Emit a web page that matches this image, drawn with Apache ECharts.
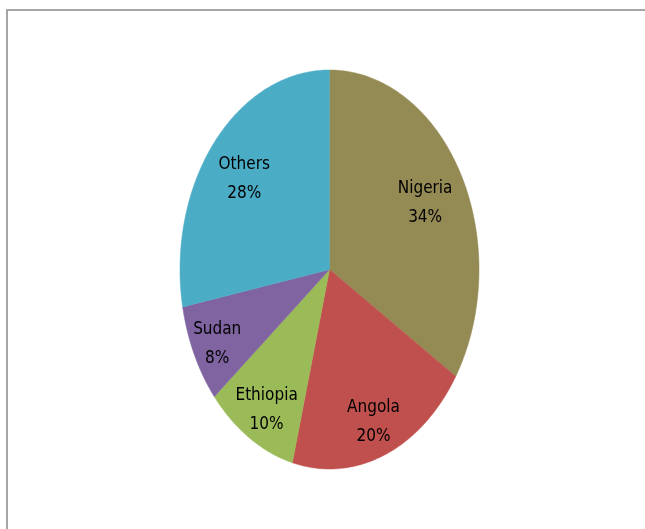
<!DOCTYPE html>
<html>
<head>
<meta charset="utf-8">
<script src="https://cdn.jsdelivr.net/npm/echarts@6/dist/echarts.min.js"></script>
<style>
  html, body { margin: 0; padding: 0; background: #fff; }
  #chart { width: 645px; height: 529px; }
</style>
</head>
<body>
<div id="chart"></div>
<script>
// Share of total by country (percent)
var categories = ['Nigeria', 'Angola', 'Ethiopia', 'Sudan', 'Others'];
var values = [34, 20, 10, 8, 28];

// Slice colours and label distance (fraction of radius) per slice
var colors = ['#948A54', '#C0504D', '#9BBB59', '#8064A2', '#4BACC6'];
var labelRadius = [0.73, 0.8, 0.81, 0.83, 0.74];
var LABEL_DY = 4;

// Ellipse geometry of the pie
var CX = 329.5, CY = 269.5, RX = 149.5, RY = 199.5;

var total = values.reduce(function (a, b) { return a + b; }, 0);
var starts = [];
var acc = 0;
values.forEach(function (v) { starts.push(acc); acc += v; });

function pt(frac, k) {
  var t = frac * 2 * Math.PI;
  return [CX + RX * k * Math.sin(t), CY - RY * k * Math.cos(t)];
}

var chart = echarts.init(document.getElementById('chart'), null, { renderer: 'canvas' });

chart.setOption({
  animation: false,
  backgroundColor: '#ffffff',
  graphic: [{
    type: 'rect',
    shape: { x: 7, y: 10, width: 700, height: 600 },
    style: { fill: 'none', stroke: '#A6A6A6', lineWidth: 2 },
    silent: true,
    z: -10
  }],
  series: [{
    type: 'custom',
    coordinateSystem: 'none',
    data: values.map(function (v, i) { return [i, v]; }),
    renderItem: function (params, api) {
      var i = api.value(0);
      var v = api.value(1);
      var f0 = starts[i] / total;
      var f1 = (starts[i] + v) / total;
      var n = Math.max(8, Math.ceil((f1 - f0) * 360));
      var points = [[CX, CY]];
      for (var s = 0; s <= n; s++) {
        points.push(pt(f0 + (f1 - f0) * s / n, 1));
      }
      var lp = pt((f0 + f1) / 2, labelRadius[i]);
      return {
        type: 'group',
        children: [{
          type: 'polygon',
          shape: { points: points },
          style: { fill: colors[i], stroke: colors[i], lineWidth: 0.5 }
        }, {
          type: 'text',
          x: lp[0] + (i === 2 ? 2 : 0),
          y: lp[1] + LABEL_DY,
          style: {
            text: categories[i] + '\n' + Math.round(v / total * 100) + '%',
            fill: '#000000',
            font: '17px "Liberation Sans Narrow", "DejaVu Sans Condensed", sans-serif',
            align: 'center',
            verticalAlign: 'middle',
            lineHeight: 29
          }
        }]
      };
    }
  }]
});
</script>
</body>
</html>
